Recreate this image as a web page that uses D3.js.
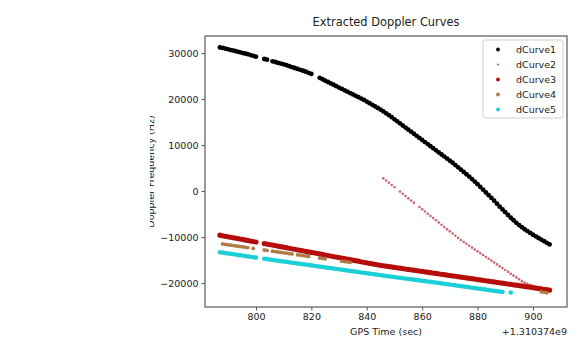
<!DOCTYPE html>
<html>
<head>
<meta charset="utf-8">
<script src="https://cdn.jsdelivr.net/npm/d3@7"></script>
<style>
  body { margin: 0; background: #fff; }
  svg { display: block; font-family: "DejaVu Sans", sans-serif; }
</style>
</head>
<body>
<div id="chart"></div>
<script>
// GPS time offset (sec) from +1.310374e9, doppler in Hz
const dCurve1 = [
  [787,31200],[788,31100],[789,30950],[790,30800],[791,30650],[792,30500],[793,30350],[794,30200],
  [795,30050],[796,29900],[797,29750],[798,29550],[799,29400],[800,29200],[803,28700],[804,28550],
  [806,28200],[807,28050],[808,27850],[809,27700],[810,27550],[811,27350],[812,27150],[813,26950],
  [814,26750],[815,26550],[816,26350],[817,26150],[818,25950],[819,25700],[820,25450],[823,24600],
  [824,24300],[825,24000],[826,23700],[827,23400],[828,23100],[829,22800],[830,22500],[831,22200],
  [832,21900],[833,21600],[834,21300],[835,21000],[836,20700],[837,20400],[838,20100],[839,19800],
  [840,19450],[841,19100],[842,18750],[843,18400],[844,18050],[845,17700],[846,17300],[847,16900],
  [848,16500],[849,16050],[850,15600],[851,15150],[852,14700],[853,14250],[854,13800],[855,13350],
  [856,12900],[857,12450],[858,12000],[859,11550],[860,11100],[861,10650],[862,10200],[863,9750],
  [864,9300],[865,8850],[866,8400],[867,7950],[868,7500],[869,7050],[870,6600],[871,6150],
  [872,5650],[873,5150],[874,4650],[875,4150],[876,3650],[877,3150],[878,2600],[879,2050],
  [880,1500],[881,900],[882,300],[883,-300],[884,-900],[885,-1500],[886,-2100],[887,-2750],
  [888,-3400],[889,-4000],[890,-4600],[891,-5200],[892,-5800],[893,-6350],[894,-6900],[895,-7400],
  [896,-7850],[897,-8300],[898,-8700],[899,-9100],[900,-9500],[901,-9850],[902,-10200],[903,-10550],
  [904,-10900],[905,-11250],[906,-11600]
];

const dCurve2 = [
  [846,2760],[847,2280],[848,1800],[849,1320],[850,840],[852,-120],[853,-600],[854,-1080],
  [855,-1560],[856,-2040],[857,-2520],[859,-3480],[860,-3960],[861,-4440],[862,-4920],[863,-5400],
  [864,-5880],[865,-6360],[866,-6840],[867,-7320],[868,-7800],[869,-8280],[870,-8760],[871,-9240],
  [872,-9720],[873,-10200],[874,-10650],[875,-11070],[876,-11480],[877,-11890],[878,-12290],[879,-12700],
  [880,-13100],[881,-13510],[882,-13910],[883,-14320],[884,-14720],[885,-15130],[886,-15530],[887,-15940],
  [888,-16340],[889,-16750],[890,-17150],[891,-17560],[892,-17960],[893,-18370],[894,-18770],[895,-19180],
  [896,-19580],[897,-19900],[898,-20150],[899,-20380],[900,-20600],[901,-20830],[902,-21050],[903,-21280],
  [904,-21500],[905,-21720],[906,-21900]
];

const dCurve3 = [
  [787,-9600],[788,-9720],[789,-9830],[790,-9940],[791,-10050],[792,-10170],[793,-10280],[794,-10390],
  [795,-10500],[796,-10620],[797,-10730],[798,-10850],[799,-10960],[800,-11070],[803,-11410],[804,-11520],
  [805,-11640],[806,-11750],[807,-11860],[808,-11970],[809,-12090],[810,-12200],[811,-12310],[812,-12430],
  [813,-12540],[814,-12650],[815,-12770],[816,-12880],[817,-12990],[818,-13100],[819,-13220],[820,-13330],
  [821,-13440],[822,-13560],[823,-13670],[824,-13780],[825,-13900],[826,-14010],[827,-14120],[828,-14230],
  [829,-14350],[830,-14460],[831,-14570],[832,-14690],[833,-14800],[834,-14910],[835,-15030],[836,-15140],
  [837,-15250],[838,-15360],[839,-15480],[840,-15590],[841,-15700],[842,-15820],[843,-15930],[844,-16040],
  [845,-16150],[846,-16240],[847,-16330],[848,-16410],[849,-16500],[850,-16590],[851,-16680],[852,-16760],
  [853,-16850],[854,-16940],[855,-17030],[856,-17110],[857,-17200],[858,-17290],[859,-17380],[860,-17470],
  [861,-17560],[862,-17640],[863,-17730],[864,-17820],[865,-17910],[866,-17990],[867,-18080],[868,-18170],
  [869,-18260],[870,-18350],[871,-18440],[872,-18520],[873,-18610],[874,-18700],[875,-18790],[876,-18870],
  [877,-18960],[878,-19050],[879,-19140],[880,-19230],[881,-19320],[882,-19400],[883,-19490],[884,-19580],
  [885,-19670],[886,-19750],[887,-19840],[888,-19930],[889,-20020],[890,-20110],[891,-20200],[892,-20280],
  [893,-20370],[894,-20460],[895,-20550],[896,-20630],[897,-20720],[898,-20810],[899,-20900],[900,-20990],
  [901,-21080],[902,-21160],[903,-21250],[904,-21340],[905,-21430],[906,-21500]
];

const dCurve4 = [
  [788,-11500],[789,-11590],[790,-11680],[791,-11760],[792,-11850],[793,-11940],[794,-12030],[795,-12110],
  [796,-12200],[797,-12290],[799,-12460],[803,-12810],[804,-12900],[806,-13070],[807,-13160],[808,-13250],
  [809,-13330],[810,-13420],[811,-13510],[812,-13600],[813,-13680],[815,-13860],[816,-13940],[817,-14030],
  [818,-14120],[819,-14200],[823,-14550],[824,-14640],[825,-14720],[831,-15240],[832,-15330],[833,-15410],
  [834,-15500],[903,-21900],[904,-22000],[905,-22100]
];

const dCurve5 = [
  [787,-13300],[788,-13390],[789,-13480],[790,-13570],[791,-13660],[792,-13750],[793,-13840],[794,-13930],
  [795,-14020],[796,-14110],[797,-14200],[798,-14290],[799,-14380],[800,-14460],[803,-14720],[804,-14800],
  [805,-14890],[806,-14970],[807,-15060],[808,-15140],[809,-15230],[810,-15310],[811,-15400],[812,-15480],
  [813,-15570],[814,-15650],[815,-15740],[816,-15820],[817,-15910],[818,-15990],[819,-16080],[820,-16160],
  [821,-16250],[822,-16330],[823,-16420],[824,-16500],[825,-16590],[826,-16670],[827,-16760],[828,-16840],
  [829,-16930],[830,-17010],[831,-17100],[832,-17180],[833,-17270],[834,-17350],[835,-17440],[836,-17520],
  [837,-17610],[838,-17690],[839,-17780],[840,-17860],[841,-17950],[842,-18030],[843,-18120],[844,-18200],
  [845,-18290],[846,-18370],[847,-18460],[848,-18540],[849,-18620],[850,-18700],[851,-18780],[852,-18860],
  [853,-18940],[854,-19020],[855,-19100],[856,-19180],[857,-19260],[858,-19340],[859,-19420],[860,-19500],
  [861,-19580],[862,-19660],[863,-19740],[864,-19820],[865,-19900],[866,-19980],[867,-20070],[868,-20150],
  [869,-20240],[870,-20320],[871,-20410],[872,-20490],[873,-20580],[874,-20660],[875,-20750],[876,-20830],
  [877,-20920],[878,-21000],[879,-21090],[880,-21170],[881,-21260],[882,-21340],[883,-21430],[884,-21510],
  [885,-21600],[886,-21680],[887,-21770],[888,-21850],[889,-21940],[892,-22050]
];

const seriesNames = ['dCurve1', 'dCurve2', 'dCurve3', 'dCurve4', 'dCurve5'];
const seriesColors = ['#000000', '#cf6470', '#b50d0a', '#b07a42', '#1bcfd6'];
const seriesRadius = [2.4, 1.3, 2.6, 1.9, 2.3];
const xTicks = [800, 820, 840, 860, 880, 900];
const yTicks = [-20000, -10000, 0, 10000, 20000, 30000];
const xOffsetLabel = '+1.310374e9';

const allSeries = [dCurve1, dCurve2, dCurve3, dCurve4, dCurve5];

const W = 581, H = 349;
const margin = {top: 36, right: 14, bottom: 42, left: 205};
const width = W - margin.left - margin.right;
const height = H - margin.top - margin.bottom;

let svg = d3.select('#chart').append('svg')
    .attr('width', W)
    .attr('height', H);

let g = svg.append('g').attr('transform', 'translate(' + margin.left + ',' + margin.top + ')');

let x = d3.scaleLinear().domain([781.6, 912.3]).range([0, width]);
let y = d3.scaleLinear().domain([-25200, 33700]).range([height, 0]);

// scatter points
allSeries.forEach((data, i) => {
    g.append('g')
        .selectAll('circle')
        .data(data)
        .enter().append('circle')
        .attr('cx', d => x(d[0]))
        .attr('cy', d => y(d[1]))
        .attr('r', seriesRadius[i])
        .attr('fill', seriesColors[i]);
});

// axes
let xAxis = g.append('g')
    .attr('transform', 'translate(0,' + height + ')')
    .call(d3.axisBottom(x).tickValues(xTicks).tickSize(3.5).tickPadding(3).tickFormat(d3.format('d')));
let yAxis = g.append('g')
    .call(d3.axisLeft(y).tickValues(yTicks).tickSize(3.5).tickPadding(3).tickFormat(d3.format('d')));

[xAxis, yAxis].forEach(a => {
    a.select('.domain').remove();
    a.selectAll('line').attr('stroke', '#555');
    a.selectAll('text').attr('font-size', 9.5).attr('fill', '#1a1a1a')
        .attr('font-family', '"DejaVu Sans", sans-serif');
});

// frame
g.append('rect')
    .attr('width', width)
    .attr('height', height)
    .attr('fill', 'none')
    .attr('stroke', '#666')
    .attr('stroke-width', 1.3);

// title and labels
svg.append('text')
    .attr('x', margin.left + width / 2)
    .attr('y', 26)
    .attr('text-anchor', 'middle')
    .attr('font-size', 11.4)
    .attr('fill', '#222')
    .text('Extracted Doppler Curves');

svg.append('text')
    .attr('x', margin.left + width / 2)
    .attr('y', 335)
    .attr('text-anchor', 'middle')
    .attr('font-size', 9.5)
    .attr('fill', '#222')
    .text('GPS Time (sec)');

svg.append('text')
    .attr('x', margin.left + width)
    .attr('y', 335)
    .attr('text-anchor', 'end')
    .attr('font-size', 9.5)
    .attr('fill', '#222')
    .text(xOffsetLabel);

// y label is half cut off in the reference
svg.append('defs').append('clipPath')
    .attr('id', 'ylabclip')
    .append('rect')
    .attr('x', 150).attr('y', 0)
    .attr('width', 20).attr('height', H);

svg.append('g')
    .attr('clip-path', 'url(#ylabclip)')
    .append('text')
    .attr('transform', 'translate(154,' + (margin.top + height / 2) + ') rotate(-90)')
    .attr('text-anchor', 'middle')
    .attr('font-size', 9.5)
    .attr('fill', '#222')
    .text('Doppler Frequency (Hz)');

// legend
let legend = svg.append('g').attr('transform', 'translate(483,40)');
legend.append('rect')
    .attr('width', 80)
    .attr('height', 78)
    .attr('rx', 2)
    .attr('fill', '#fff')
    .attr('fill-opacity', 0.8)
    .attr('stroke', '#d0d0d0');

seriesNames.forEach((name, i) => {
    let row = legend.append('g').attr('transform', 'translate(0,' + (9.5 + i * 15) + ')');
    row.append('circle')
        .attr('cx', 15)
        .attr('cy', 0)
        .attr('r', i === 1 ? 1.1 : 1.9)
        .attr('fill', seriesColors[i]);
    row.append('text')
        .attr('x', 33)
        .attr('y', 3.5)
        .attr('font-size', 9.5)
        .attr('fill', '#222')
        .text(name);
});
</script>
</body>
</html>
